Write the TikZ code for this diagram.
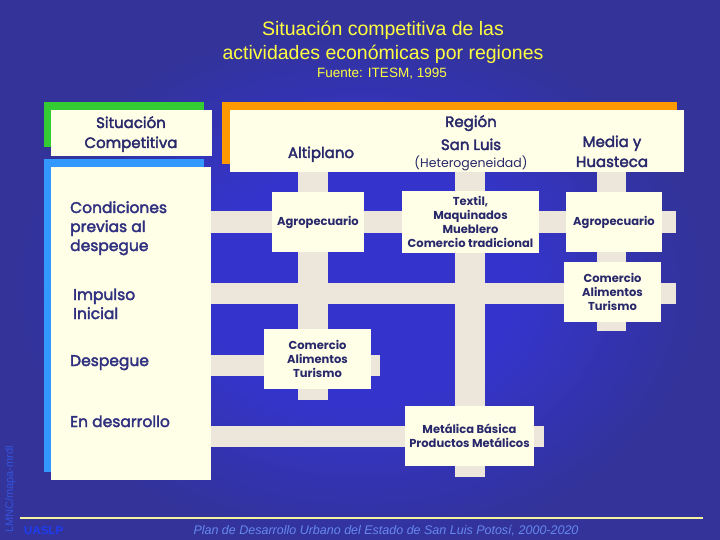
\documentclass[tikz,border=0pt]{standalone}
\usepackage{fontspec}
\setmainfont{Liberation Sans}
\newfontfamily\gothic{Poppins}
\newfontfamily\gothicm[FakeBold=2.5]{Poppins}
\definecolor{bgout}{HTML}{333399}
\definecolor{bgin}{HTML}{3434CC}
\definecolor{cream}{HTML}{FFFFE8}
\definecolor{barc}{HTML}{EDE6DA}
\definecolor{navy}{HTML}{28286A}
\definecolor{navyl}{HTML}{303080}
\definecolor{ttl}{HTML}{FFFF40}
\definecolor{grn}{HTML}{33CC33}
\definecolor{blu}{HTML}{3399FF}
\definecolor{orng}{HTML}{FF9900}
\definecolor{fline}{HTML}{F4F4A0}
\definecolor{uas}{HTML}{1E3CF0}
\definecolor{ftxt}{HTML}{6688EE}
\definecolor{vtxt}{HTML}{3355DD}
\pgfdeclareradialshading{bgshade}{\pgfpoint{0bp}{0bp}}{color(0bp)=(bgin); color(11bp)=(bgin); color(24bp)=(bgout); color(50bp)=(bgout)}
\tikzset{
  cell/.style={fill=cream, draw=none, inner sep=0pt, align=center, text=navy,
    font=\gothic\bfseries\fontsize{11.5}{14}\selectfont},
  rowlabel/.style={anchor=base west, inner sep=0pt, align=left, text=navyl,
    font=\gothicm\fontsize{15.5}{19}\selectfont},
  hdr/.style={anchor=base, inner sep=0pt, align=center, text=navy,
    font=\gothicm\fontsize{15}{20}\selectfont},
  bar/.style={draw=barc, line width=#1},
}
\begin{document}
\begin{tikzpicture}[x=1pt,y=-1pt]
\useasboundingbox (0,0) rectangle (720,540);
\fill[bgout] (0,0) rectangle (720,540);
\shade[shading=bgshade] (0,10) rectangle (720,560);
% title
\node[anchor=base, inner sep=0pt, text=ttl, font=\fontsize{19.5}{24}\selectfont] (t1) at (383,36) {Situación competitiva de las};
\node[anchor=base, inner sep=0pt, text=ttl, font=\fontsize{19.5}{24}\selectfont] (t2) at (383,60) {actividades económicas por regiones};
\node[anchor=base, inner sep=0pt, text=ttl, font=\fontsize{13.5}{16}\selectfont] (t3) at (382,78) {Fuente: ITESM, 1995};
% left header
\fill[grn] (44,102) rectangle (204,147);
\fill[cream] (51,110) rectangle (212,156);
\node[hdr] (sc1) at (131,128) {Situación};
\node[hdr] (sc2) at (131,148) {Competitiva};
% left panel
\fill[blu] (44,159) rectangle (204,472);
\fill[cream] (51,167) rectangle (211,480);
% right header
\fill[orng] (222,102) rectangle (677,164);
\fill[cream] (230,110) rectangle (684,172);
\node[hdr] (alt) at (321,158) {Altiplano};
\node[hdr] (reg) at (471,127) {Región};
\node[hdr] (sl) at (471,150) {San Luis};
\node[hdr, font=\gothic\fontsize{12.5}{14}\selectfont] (het) at (471,168) {(Heterogeneidad)};
\node[hdr] (md1) at (612,147) {Media y};
\node[hdr] (md2) at (612,167) {Huasteca};
% grid coordinates
\coordinate (vAt) at (313,172); \coordinate (vAb) at (313,400);
\coordinate (vSt) at (470,172); \coordinate (vSb) at (470,477);
\coordinate (vMt) at (611.5,172); \coordinate (vMb) at (611.5,331);
\coordinate (h1s) at (211,222); \coordinate (h1e) at (676,222);
\coordinate (h2s) at (211,293.5); \coordinate (h2e) at (676,293.5);
\coordinate (h3s) at (211,365.5); \coordinate (h3e) at (380,365.5);
\coordinate (h4s) at (211,436.5); \coordinate (h4e) at (544,436.5);
\draw[bar=30] (vAt) -- (vAb);
\draw[bar=30] (vSt) -- (vSb);
\draw[bar=29] (vMt) -- (vMb);
\draw[bar=22] (h1s) -- (h1e);
\draw[bar=21] (h2s) -- (h2e);
\draw[bar=21] (h3s) -- (h3e);
\draw[bar=21] (h4s) -- (h4e);
% row labels (base = last line)
\node[rowlabel] (cond) at (70,251) {Condiciones\\previas al\\despegue};
\node[rowlabel] (imp) at (73,319) {Impulso\\Inicial};
\node[rowlabel] (desp) at (70,366) {Despegue};
\node[rowlabel] (endes) at (70,427) {En desarrollo};
% cells
\node[cell, minimum width=92, minimum height=60] (a1) at (318,222) {Agropecuario};
\node[cell, minimum width=137, minimum height=62] (s1) at (470.5,222) {Textil,\\Maquinados\\Mueblero\\Comercio tradicional};
\node[cell, minimum width=96, minimum height=60] (m1) at (614,222) {Agropecuario};
\node[cell, minimum width=97, minimum height=60] (m2) at (612.5,292) {Comercio\\Alimentos\\Turismo};
\node[cell, minimum width=107, minimum height=60] (a3) at (317.5,359) {Comercio\\Alimentos\\Turismo};
\node[cell, minimum width=129, minimum height=60] (s4) at (469.5,436) {Metálica Básica\\Productos Metálicos};
% footer
\coordinate (fl1) at (20,518); \coordinate (fl2) at (703,518);
\draw[draw=fline, line width=1.3] (fl1) -- (fl2);
\node[anchor=base west, inner sep=0pt, text=uas, font=\bfseries\fontsize{11.5}{13}\selectfont] (ua) at (24,534) {UASLP};
\node[anchor=base, inner sep=0pt, text=ftxt, font=\itshape\fontsize{12.5}{14}\selectfont] (pl) at (386,534) {Plan de Desarrollo Urbano del Estado de San Luis Potosí, 2000-2020};
\node[anchor=base west, rotate=90, inner sep=0pt, text=vtxt, font=\fontsize{11}{13}\selectfont] (lm) at (13,533) {LMNC/mapa-mrdl};
\end{tikzpicture}
\end{document}
